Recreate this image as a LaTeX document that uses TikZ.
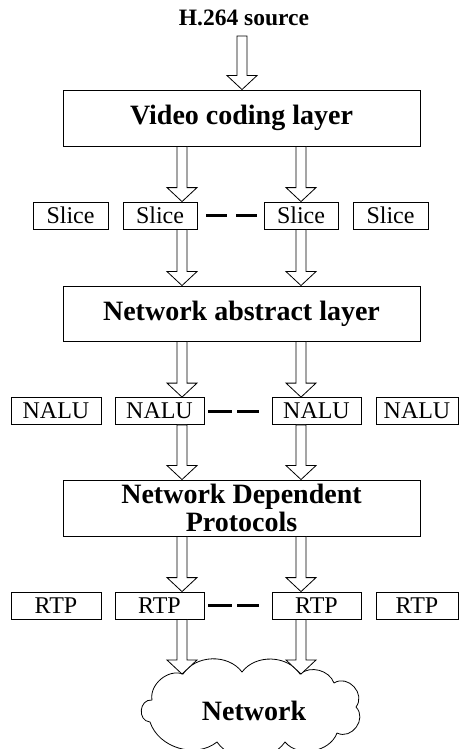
\documentclass[tikz,border=0pt]{standalone}
\usepackage{fontspec}
\setmainfont{Liberation Serif}
\usetikzlibrary{calc}

% hollow block arrow from point #1 down to tip #2 (x taken from #1)
\newcommand\blockarrow[2]{%
  \path[blockarrow] let \p1=#1, \p2=#2 in
    (\x1-5pt,\y1) -- (\x1-5pt,\y2+14pt) -- (\x1-15pt,\y2+14pt) -- (\x1,\y2)
    -- (\x1+15pt,\y2+14pt) -- (\x1+5pt,\y2+14pt) -- (\x1+5pt,\y1) -- cycle;}

\tikzset{
  layer/.style={draw, line width=0.9pt, minimum width=357pt, minimum height=56pt,
    inner sep=0pt, align=center, font=\fontsize{28}{29}\selectfont\bfseries},
  unit/.style={draw, line width=0.8pt, minimum height=27pt, inner sep=0pt,
    font=\fontsize{24}{26}\selectfont},
  gap/.style={line width=3pt},
  blockarrow/.style={draw, line width=0.8pt, fill=white, line join=miter},
  cloudline/.style={draw, line width=0.8pt, line join=round}
}

\begin{document}
\begin{tikzpicture}[x=1pt, y=-1pt]
\useasboundingbox (0,0) rectangle (459,749);

% column positions of the two data paths
\coordinate (colL) at (182,0);
\coordinate (colR) at (301,0);

% source label
\node[font=\fontsize{23.5}{25}\selectfont\bfseries, inner sep=0pt] (src) at (244,18) {H.264 source};
\coordinate (srcfoot) at (242,36);

% layers
\node[layer] (vcl) at (241.5,118) {Video coding layer};
\node[layer, minimum height=55pt] (nal) at (241.5,313.5) {Network abstract layer};
\node[layer] (ndp) at (241.5,508) {Network Dependent\\[-1pt]Protocols};

% slices
\node[unit, minimum width=75pt] (s1) at (70.5,215.5) {Slice};
\node[unit, minimum width=74pt] (s2) at (160,215.5) {Slice};
\node[unit, minimum width=74pt] (s3) at (301,215.5) {Slice};
\node[unit, minimum width=75pt] (s4) at (390.5,215.5) {Slice};

% NAL units
\node[unit, minimum width=90pt] (n1) at (56,411) {NALU};
\node[unit, minimum width=89pt] (n2) at (159.5,411) {NALU};
\node[unit, minimum width=89pt] (n3) at (316.5,411) {NALU};
\node[unit, minimum width=82pt] (n4) at (417,411) {NALU};

% RTP packets
\node[unit, minimum width=90pt] (r1) at (56,605.5) {RTP};
\node[unit, minimum width=89pt] (r2) at (159.5,605.5) {RTP};
\node[unit, minimum width=89pt] (r3) at (316.5,605.5) {RTP};
\node[unit, minimum width=82pt] (r4) at (417,605.5) {RTP};

% ellipsis dashes between the units
\draw[gap, dash pattern=on 21pt off 9pt] ([xshift=9pt]s2.east) -- ([xshift=-7pt]s3.west);
\draw[gap, dash pattern=on 24pt off 5pt] ([xshift=4pt]n2.east) -- ([xshift=-13pt]n3.west);
\draw[gap, dash pattern=on 24pt off 5pt] ([xshift=4pt]r2.east) -- ([xshift=-13pt]r3.west);

% network cloud: lobes traced clockwise from the left arrow tip
\path[cloudline]
  (183,674) to[bend left=55] (242,672) to[bend left=55] (300,674)
  to[bend left=55] (334,683) to[bend left=80, looseness=1.3] (356,707)
  to[bend left=80, looseness=1.3] (337,733) to[bend left=60] (285,742)
  to[bend left=55] (217,742) to[bend left=55] (150,722)
  to[bend left=90, looseness=1.5] (152,700) to[bend left=60] (183,674) -- cycle;
\coordinate (netL) at (182,674);
\coordinate (netR) at (301,674);
\node[font=\fontsize{28}{29}\selectfont\bfseries, inner sep=0pt] (net) at (254,711) {Network};

% flow arrows
\blockarrow{(srcfoot)}{(vcl.north -| srcfoot)}
\blockarrow{(vcl.south -| colL)}{(s2.north -| colL)}
\blockarrow{(vcl.south -| colR)}{(s3.north -| colR)}
\blockarrow{(s2.south -| colL)}{(nal.north -| colL)}
\blockarrow{(s3.south -| colR)}{(nal.north -| colR)}
\blockarrow{(nal.south -| colL)}{(n2.north -| colL)}
\blockarrow{(nal.south -| colR)}{(n3.north -| colR)}
\blockarrow{(n2.south -| colL)}{(ndp.north -| colL)}
\blockarrow{(n3.south -| colR)}{(ndp.north -| colR)}
\blockarrow{(ndp.south -| colL)}{(r2.north -| colL)}
\blockarrow{(ndp.south -| colR)}{(r3.north -| colR)}
\blockarrow{(r2.south -| colL)}{(netL)}
\blockarrow{(r3.south -| colR)}{(netR)}
\end{tikzpicture}
\end{document}
